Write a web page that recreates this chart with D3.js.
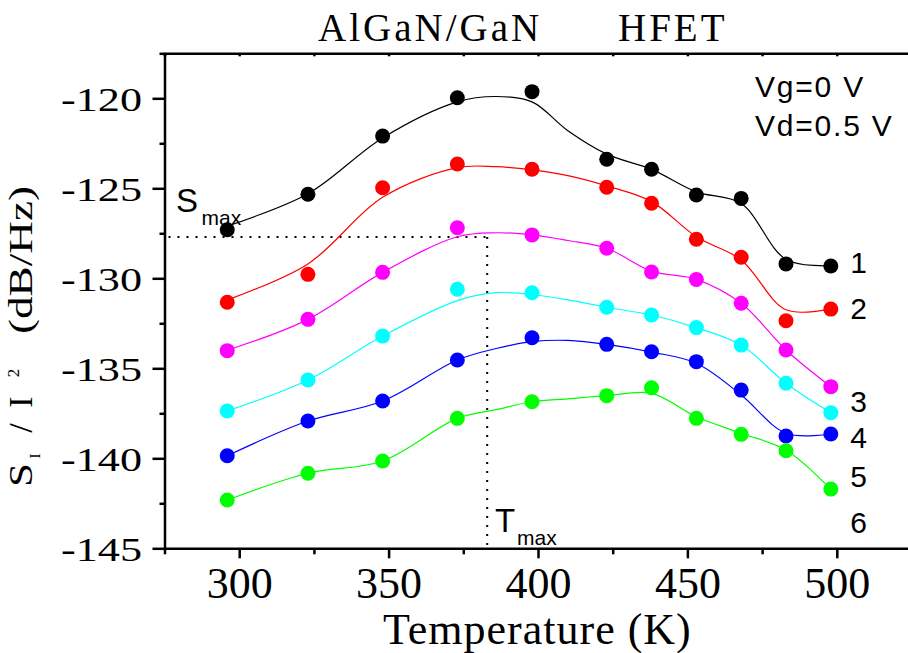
<!DOCTYPE html>
<html><head><meta charset="utf-8">
<script src="https://cdn.jsdelivr.net/npm/d3@7"></script>
<style>html,body{margin:0;padding:0;background:#fff;} svg{display:block}</style>
</head><body>
<svg id="chart" width="908" height="653"></svg>
<script>
// ---- data ----
const temps = [296, 323, 348, 373, 398, 423, 438, 453, 468, 483, 498];
const series1 = [-127.3, -125.33, -122.1, -119.97, -119.63, -123.39, -123.94, -125.37, -125.56, -129.2, -129.32];
const series2 = [-131.33, -129.78, -124.97, -123.65, -123.94, -124.94, -125.83, -127.83, -128.83, -132.36, -131.71];
const series3 = [-134.02, -132.28, -129.67, -127.19, -127.59, -128.33, -129.65, -130.06, -131.39, -133.98, -136.02];
const series4 = [-137.37, -135.65, -133.21, -130.61, -130.8, -131.61, -132.04, -132.74, -133.71, -135.83, -137.47];
const series5 = [-139.86, -137.93, -136.82, -134.54, -133.3, -133.67, -134.08, -134.63, -136.21, -138.76, -138.65];
const series6 = [-142.32, -140.83, -140.15, -137.78, -136.86, -136.52, -136.08, -137.78, -138.67, -139.58, -141.71];

// smooth fitted curves
const fitTemps = [296, 323, 348, 373, 386, 398, 410, 423, 438, 453, 468, 483, 498];
const fit1 = [-127.1, -125.3, -122.2, -120.2, -119.9, -120.2, -121.8, -123.1, -123.95, -125.2, -125.85, -128.95, -129.3];
const fit2 = [-131.2, -129.2, -125.5, -123.85, -123.8, -123.98, -124.3, -124.87, -125.74, -127.69, -128.98, -131.75, -131.7];
const fit3 = [-134.0, -132.28, -129.67, -127.69, -127.47, -127.59, -127.9, -128.33, -129.6, -130.06, -131.39, -133.98, -136.02];
const fit4 = [-137.37, -135.65, -133.21, -131.24, -130.8, -130.9, -131.2, -131.61, -132.04, -132.74, -133.71, -135.83, -137.47];
const fit5 = [-139.86, -137.93, -136.82, -134.54, -133.9, -133.52, -133.45, -133.67, -134.1, -134.72, -136.48, -138.61, -138.65];
const fit6 = [-142.32, -140.83, -140.15, -137.78, -137.3, -136.86, -136.7, -136.52, -136.39, -137.69, -138.61, -139.54, -141.71];

const seriesNames = ["1", "2", "3", "4", "5", "6"];
const colors = ["#000000", "#ff0000", "#ff00ff", "#00ffff", "#0000ff", "#00ff00"];
const labelValues = [-129.71, -132.28, -137.41, -139.44, -141.61, -144.13]; // baseline of the curve number labels
const xTickValues = d3.range(275, 526, 25);
const xTickLabels = [300, 350, 400, 450, 500];
const yTickValues = d3.range(-145, -117.4, 2.5);
const yTickLabels = [-145, -140, -135, -130, -125, -120];
const sMax = -127.7, tMax = 383;

const allSeries = [series1, series2, series3, series4, series5, series6];
const allFits = [fit1, fit2, fit3, fit4, fit5, fit6];

// ---- chart ----
const svg = d3.select("#chart");
const x = d3.scaleLinear().domain([275, 525]).range([164.5, 911.5]);
const y = d3.scaleLinear().domain([-145, -117.5]).range([548.3, 53.3]);
const serif = "'Liberation Serif','Times New Roman',serif";
const sans = "'Liberation Sans',Arial,sans-serif";

// dotted guide lines
svg.append("line").attr("x1", x(275) + 4).attr("x2", x(tMax)).attr("y1", y(sMax)).attr("y2", y(sMax))
  .attr("stroke", "#000").attr("stroke-width", 2).attr("stroke-dasharray", "2,7");
svg.append("line").attr("x1", x(tMax)).attr("x2", x(tMax)).attr("y1", y(sMax)).attr("y2", y(-145))
  .attr("stroke", "#000").attr("stroke-width", 2).attr("stroke-dasharray", "2,7");

// fitted curves
const line = d3.line().x((d, i) => x(fitTemps[i])).y(d => y(d)).curve(d3.curveCatmullRom.alpha(0.5));
allFits.forEach((f, k) => {
  svg.append("path").datum(f).attr("d", line).attr("fill", "none")
    .attr("stroke", colors[k]).attr("stroke-width", 1.2);
});
// points
allSeries.forEach((s, k) => {
  svg.append("g").selectAll("circle").data(s).join("circle")
    .attr("cx", (d, i) => x(temps[i])).attr("cy", d => y(d)).attr("r", 7.5)
    .attr("fill", colors[k]);
});

// axes
const axW = 2.5;
const gB = svg.append("g").attr("transform", `translate(0,${y(-145)})`)
  .call(d3.axisBottom(x).tickValues(xTickValues).tickSizeOuter(0)
    .tickFormat(d => xTickLabels.includes(d) ? String(d) : ""));
gB.selectAll(".tick line").attr("y2", d => xTickLabels.includes(d) ? 10 : 6);
gB.selectAll(".tick text").attr("y", 50).attr("dy", null)
  .style("font-family", serif).style("font-size", "44px").attr("fill", "#000");

const gT = svg.append("g").attr("transform", `translate(0,${y(-117.5)})`)
  .call(d3.axisTop(x).tickValues(xTickValues).tickSizeOuter(0).tickSize(-3).tickFormat(""));

const gL = svg.append("g").attr("transform", `translate(${x(275)},0)`)
  .call(d3.axisLeft(y).tickValues(yTickValues).tickSizeOuter(0)
    .tickFormat(d => yTickLabels.includes(d) ? String(d) : ""));
gL.selectAll(".tick line").attr("x2", d => yTickLabels.includes(d) ? -12 : -5);
gL.selectAll(".tick text").attr("x", 0).attr("dy", null).attr("y", 0)
  .attr("text-anchor", "end")
  .attr("transform", "translate(-22.5,12) scale(1.3,1)")
  .style("font-family", serif).style("font-size", "34px").attr("fill", "#000");

[gB, gT, gL].forEach(g => {
  g.select(".domain").attr("stroke", "#000").attr("stroke-width", axW);
  g.selectAll(".tick line").attr("stroke", "#000").attr("stroke-width", axW);
});

// title
svg.append("text").attr("x", 318).attr("y", 41).text("AlGaN/GaN")
  .style("font-family", serif).style("font-size", "39px").style("letter-spacing", "3px");
svg.append("text").attr("x", 618).attr("y", 41).text("HFET")
  .style("font-family", serif).style("font-size", "39px").style("letter-spacing", "3px");

// x title
svg.append("text").attr("x", 383).attr("y", 644).text("Temperature (K)")
  .style("font-family", serif).style("font-size", "44px").style("letter-spacing", "1px");

// y title, built from pieces (reads bottom to top); len = stretched length or null
const yTitleParts = [
  { t: "S", yc: 475, bx: 32, fs: 34, len: 24 },
  { t: "I", yc: 456, bx: 40, fs: 15, len: null },
  { t: "/", yc: 428, bx: 32, fs: 34, len: null },
  { t: "I", yc: 402, bx: 32, fs: 34, len: null },
  { t: "2", yc: 373, bx: 19, fs: 17, len: null },
  { t: "(dB/Hz)", yc: 260, bx: 32, fs: 34, len: 148 }
];
yTitleParts.forEach(p => {
  const t = svg.append("text")
    .attr("transform", `translate(${p.bx},${p.yc}) rotate(-90)`)
    .attr("x", 0).attr("y", 0).attr("text-anchor", "middle")
    .style("font-family", serif).style("font-size", p.fs + "px").text(p.t);
  if (p.len) t.attr("textLength", p.len).attr("lengthAdjust", "spacingAndGlyphs");
});

// annotations
svg.append("text").attr("x", 755).attr("y", 96.7).text("Vg=0 V")
  .style("font-family", sans).style("font-size", "30px").style("letter-spacing", "1.8px").style("white-space", "pre");
svg.append("text").attr("x", 755).attr("y", 136).text("Vd=0.5 V")
  .style("font-family", sans).style("font-size", "30px").style("letter-spacing", "1.8px").style("white-space", "pre");

const sm = svg.append("text").attr("x", 176).attr("y", 211.7).style("font-family", sans).style("font-size", "33px");
sm.append("tspan").text("S");
sm.append("tspan").text("max").attr("x", 201.5).attr("y", 225).style("font-size", "21px");
const tm = svg.append("text").attr("x", 495).attr("y", 531.7).style("font-family", sans).style("font-size", "33px");
tm.append("tspan").text("T");
tm.append("tspan").text("max").attr("x", 517).attr("y", 545).style("font-size", "21px");

seriesNames.forEach((n, k) => {
  svg.append("text").attr("x", x(504.5)).attr("y", y(labelValues[k])).text(n)
    .style("font-family", sans).style("font-size", "30px");
});
</script>
</body></html>
